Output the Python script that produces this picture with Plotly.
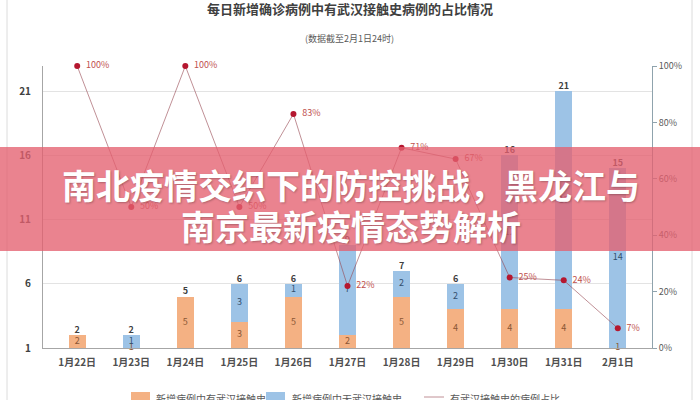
import plotly.graph_objects as go

dates = ["1月22日", "1月23日", "1月24日", "1月25日", "1月26日", "1月27日",
         "1月28日", "1月29日", "1月30日", "1月31日", "2月1日"]
with_contact = [2, 1, 5, 3, 5, 2, 5, 4, 4, 4, 1]
without_contact = [0, 1, 0, 3, 1, 7, 2, 2, 12, 17, 14]
totals = [2, 2, 5, 6, 6, 9, 7, 6, 16, 21, 15]
share = [1.00, 0.50, 1.00, 0.50, 0.83, 0.22, 0.71, 0.67, 0.25, 0.24, 0.07]
left_ticks = [1, 6, 11, 16, 21]
right_ticks = [0, 0.2, 0.4, 0.6, 0.8, 1.0]

title_text = "每日新增确诊病例中有武汉接触史病例的占比情况"
subtitle_text = "(数据截至2月1日24时)"
legend_names = ["新增病例中有武汉接触史", "新增病例中无武汉接触史", "有武汉接触史的病例占比"]
banner_lines = ["南北疫情交织下的防控挑战，黑龙江与", "南京最新疫情态势解析"]

FONT = "Noto Sans CJK SC, Noto Sans, sans-serif"
ORANGE = "#f4b183"
BLUE = "#9dc3e6"
RED = "#b5172f"
YMIN = 1

# plot-area geometry (pixels)
L, R, T, B = 43, 48, 66, 52
W, H = 700, 400
PW, PH = W - L - R, H - T - B


def px_x(px):
    return (px - L) / PW


def px_y(py):
    return (H - B - py) / PH


fig = go.Figure()

fig.add_trace(go.Bar(x=dates, y=with_contact, name=legend_names[0],
                     marker=dict(color=ORANGE, line=dict(width=0)), width=0.31,
                     showlegend=False, hoverinfo="skip"))
fig.add_trace(go.Bar(x=dates, y=without_contact, name=legend_names[1],
                     marker=dict(color=BLUE, line=dict(width=0)), width=0.31,
                     showlegend=False, hoverinfo="skip"))

# segment labels (centre of visible part of each segment)
o_x, o_y, o_t = [], [], []
b_x, b_y, b_t = [], [], []
for d, a, b in zip(dates, with_contact, without_contact):
    if a > 0:
        o_x.append(d)
        o_y.append((max(0, YMIN) + max(a, YMIN)) / 2)
        o_t.append(str(a))
    if b > 0:
        b_x.append(d)
        b_y.append((max(a, YMIN) + a + b) / 2)
        b_t.append(str(b))

fig.add_trace(go.Scatter(x=o_x, y=o_y, text=o_t, mode="text",
                         textfont=dict(size=9, color="#8a5634", family=FONT),
                         showlegend=False, hoverinfo="skip", cliponaxis=False))
fig.add_trace(go.Scatter(x=b_x, y=b_y, text=b_t, mode="text",
                         textfont=dict(size=9, color="#33506e", family=FONT),
                         showlegend=False, hoverinfo="skip", cliponaxis=False))
fig.add_trace(go.Scatter(x=dates, y=totals, text=[f"<b>{t}</b>" for t in totals],
                         mode="text", textposition="top center",
                         textfont=dict(size=9, color="#404040", family=FONT),
                         showlegend=False, hoverinfo="skip", cliponaxis=False))

fig.add_trace(go.Scatter(x=dates, y=share, yaxis="y2", mode="lines+markers+text",
                         text=[f"{v:.0%}" for v in share],
                         texttemplate="  %{text}", textposition="middle right",
                         textfont=dict(size=9, color="#c0504d", family=FONT),
                         line=dict(color="rgba(150,70,80,0.6)", width=1),
                         marker=dict(color=RED, size=6),
                         name=legend_names[2], showlegend=False,
                         hoverinfo="skip", cliponaxis=False))

shapes = []
# card border lines
for xp in (7, 692):
    shapes.append(dict(type="line", xref="paper", yref="paper",
                       x0=px_x(xp), x1=px_x(xp), y0=px_y(0), y1=px_y(400),
                       line=dict(color="#dcdcdc", width=1), layer="below"))
# banner
shapes.append(dict(type="rect", xref="paper", yref="paper",
                   x0=px_x(0), x1=px_x(700), y0=px_y(251), y1=px_y(147),
                   fillcolor="rgba(228,96,112,0.78)", line=dict(width=0),
                   layer="above"))
# legend keys
shapes.append(dict(type="rect", xref="paper", yref="paper",
                   x0=px_x(131), x1=px_x(150), y0=px_y(400), y1=px_y(392),
                   fillcolor=ORANGE, line=dict(width=0)))
shapes.append(dict(type="rect", xref="paper", yref="paper",
                   x0=px_x(266), x1=px_x(285), y0=px_y(400), y1=px_y(392),
                   fillcolor=BLUE, line=dict(width=0)))
shapes.append(dict(type="line", xref="paper", yref="paper",
                   x0=px_x(424), x1=px_x(444), y0=px_y(397), y1=px_y(397),
                   line=dict(color="rgba(150,70,80,0.6)", width=1)))


def ann(text, x, y, size, color, xanchor="center", shadow=None):
    f = dict(size=size, color=color, family=FONT)
    if shadow:
        f["shadow"] = shadow
    return dict(text=text, xref="paper", yref="paper", x=px_x(x), y=px_y(y),
                xanchor=xanchor, yanchor="middle", showarrow=False, font=f)


annotations = [
    ann(f"<b>{title_text}</b>", 350, 9, 13, "#404040"),
    ann(subtitle_text, 349, 38, 9, "#595959"),
    ann(f"<b>{banner_lines[0]}</b>", 351, 184, 34, "white",
        shadow="1px 1px 2px rgba(0,0,0,0.25)"),
    ann(f"<b>{banner_lines[1]}</b>", 351, 225, 34, "white",
        shadow="1px 1px 2px rgba(0,0,0,0.25)"),
    ann(legend_names[0], 154, 398, 10, "#595959", xanchor="left"),
    ann(legend_names[1], 290, 398, 10, "#595959", xanchor="left"),
    ann(legend_names[2], 448, 398, 10, "#595959", xanchor="left"),
]

fig.update_layout(
    width=W, height=H,
    margin=dict(l=L, r=R, t=T, b=B, pad=0),
    paper_bgcolor="white", plot_bgcolor="white",
    barmode="stack", bargap=0.69,
    showlegend=False,
    font=dict(family=FONT, color="#595959"),
    xaxis=dict(showgrid=False, showline=True, linecolor="#a6a6a6", linewidth=1,
               ticks="", tickvals=dates, ticktext=[f"<b>{d}</b>" for d in dates],
               tickfont=dict(size=10, color="#505050", family=FONT),
               ticklabelstandoff=5, fixedrange=True),
    yaxis=dict(range=[YMIN, 22.95], tickvals=left_ticks,
               ticktext=[f"<b>{t}</b>" for t in left_ticks],
               showgrid=True, gridcolor="#e3e3e3", gridwidth=1,
               showline=True, linecolor="#a6a6a6", linewidth=1,
               zeroline=False, ticks="outside", ticklen=9, tickcolor="rgba(0,0,0,0)",
               tickfont=dict(size=10, color="#404040", family=FONT)),
    yaxis2=dict(range=[0, 1], overlaying="y", side="right",
                tickvals=right_ticks, tickformat=".0%",
                showgrid=False, zeroline=False, showline=True,
                linecolor="#8fa3ad", linewidth=1, ticks="outside", ticklen=4,
                tickcolor="#8fa3ad",
                tickfont=dict(size=9, color="#595959", family=FONT)),
    shapes=shapes,
    annotations=annotations,
)

fig.write_html("out.html",
               config={"displayModeBar": False},
               post_script="document.body.style.margin='0';"
                           "document.body.style.overflow='hidden';")
